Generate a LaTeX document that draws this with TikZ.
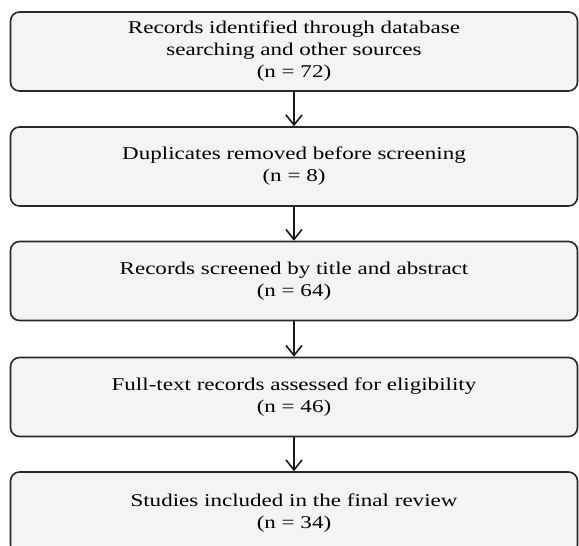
\documentclass[tikz,border=0pt]{standalone}
\usepackage{fontspec}
\setmainfont{Liberation Serif}[FakeStretch=1.28]
\usetikzlibrary{arrows.meta}
\definecolor{boxfill}{RGB}{244,244,244}
\definecolor{boxline}{RGB}{40,40,40}
\tikzset{
  stagebox/.style={draw=boxline, line width=1.6pt, fill=boxfill, rounded corners=9pt,
    minimum width=567pt, minimum height=79pt, align=center, inner sep=0pt,
    font=\fontsize{18}{22}\selectfont, text=black},
  flowarrow/.style={draw=black!90, line width=1.6pt, -{Straight Barb[length=10pt,width=16pt,line width=1.6pt]}}
}
\begin{document}
\begin{tikzpicture}[x=1pt,y=-1pt]
\useasboundingbox[fill=white] (0,0) rectangle (579,546);
\node[stagebox] (b1) at (294,51.5) {Records identified through database\\searching and other sources\\(n = 72)};
\node[stagebox] (b2) at (294,166.5) {Duplicates removed before screening\\(n = 8)};
\node[stagebox] (b3) at (294,281) {Records screened by title and abstract\\(n = 64)};
\node[stagebox] (b4) at (294,397) {Full-text records assessed for eligibility\\(n = 46)};
\node[stagebox, minimum height=82pt] (b5) at (294,513) {\raisebox{4pt}{\begin{tabular}{@{}c@{}}Studies included in the final review\\(n = 34)\end{tabular}}};
\draw[flowarrow] (b1.south) -- (b2.north);
\draw[flowarrow] (b2.south) -- (b3.north);
\draw[flowarrow] (b3.south) -- (b4.north);
\draw[flowarrow] (b4.south) -- (b5.north);
\end{tikzpicture}
\end{document}
